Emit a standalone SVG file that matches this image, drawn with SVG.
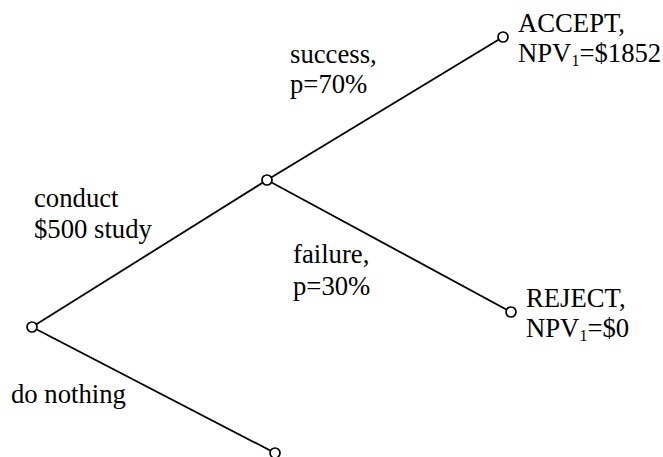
<svg xmlns="http://www.w3.org/2000/svg" width="663" height="457" viewBox="0 0 663 457">
<style>
.n{fill:#fff;stroke:#000;stroke-width:1.7}
.c{stroke:#000;stroke-width:1.8;fill:none}
text{font-family:"Liberation Serif","Times New Roman",serif;font-size:26.7px;fill:#000}
.s{font-size:16px}
</style>
<rect width="663" height="457" fill="#fff"/>
<g id="connectors">
<line class="c" x1="32" y1="327" x2="267" y2="180"/>
<line class="c" x1="267" y1="180" x2="503" y2="37"/>
<line class="c" x1="267" y1="180" x2="511" y2="312"/>
<line class="c" x1="32" y1="327" x2="275" y2="453"/>
</g>
<g id="labels">
<text x="290" y="63">success,</text>
<text x="290" y="93">p=70%</text>
<text x="34" y="207">conduct</text>
<text x="34" y="238">$500 study</text>
<text x="293" y="263">failure,</text>
<text x="293" y="295">p=30%</text>
<text x="11" y="403">do nothing</text>
</g>
<g id="root"><circle class="n" cx="32" cy="327" r="5"/></g>
<g id="study"><circle class="n" cx="267" cy="180" r="5"/></g>
<g id="accept">
<circle class="n" cx="503" cy="37" r="5"/>
<text x="518" y="32">ACCEPT,</text>
<text x="518" y="62">NPV<tspan class="s" dy="4">1</tspan><tspan dy="-4">=$1852</tspan></text>
</g>
<g id="reject">
<circle class="n" cx="511" cy="312" r="5"/>
<text x="526" y="307">REJECT,</text>
<text x="526" y="337">NPV<tspan class="s" dy="4">1</tspan><tspan dy="-4">=$0</tspan></text>
</g>
<g id="nothing"><circle class="n" cx="275" cy="453" r="5"/></g>
</svg>
